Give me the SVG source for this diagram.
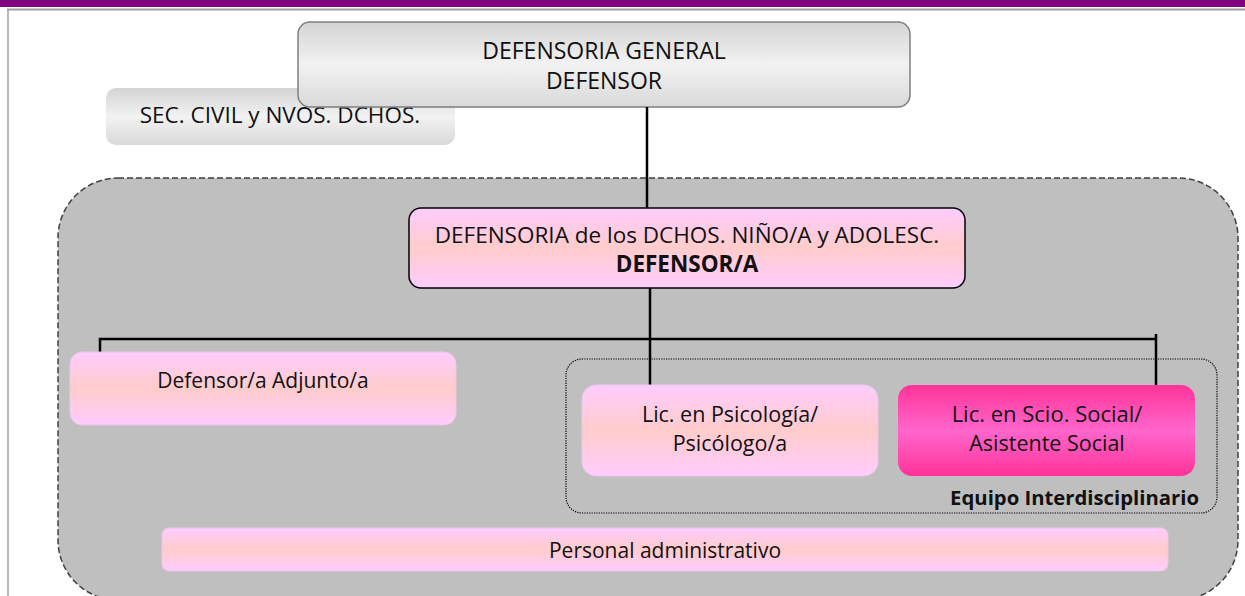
<svg xmlns="http://www.w3.org/2000/svg" width="1245" height="596" viewBox="0 0 1245 596">
<defs>
<linearGradient id="gGray" x1="0" y1="0" x2="0" y2="1">
<stop offset="0" stop-color="#d4d4d4"/><stop offset="0.5" stop-color="#f2f2f2"/><stop offset="1" stop-color="#d9d9d9"/>
</linearGradient>
<linearGradient id="gPink" x1="0" y1="0" x2="0" y2="1">
<stop offset="0" stop-color="#ffccff"/><stop offset="0.5" stop-color="#ffcccc"/><stop offset="1" stop-color="#ffccff"/>
</linearGradient>
<linearGradient id="gMag" x1="0" y1="0" x2="0" y2="1">
<stop offset="0" stop-color="#ff3399"/><stop offset="0.5" stop-color="#ff66cc"/><stop offset="1" stop-color="#ff3399"/>
</linearGradient>
</defs>
<style>
text{font-family:"Open Sans","Liberation Sans",sans-serif;font-size:21.5px;fill:#111;text-anchor:middle}
.caps{font-size:22.5px}
.b{font-weight:bold}
.conn{stroke:#000;stroke-width:2.5;fill:none}
.pink{fill:url(#gPink);stroke:#e8c8e8;stroke-width:1}
</style>
<rect x="0" y="0" width="1245" height="7" fill="#800080"/>
<line x1="7" y1="9.5" x2="1245" y2="9.5" stroke="#a0a0a0" stroke-width="2"/>
<line x1="8" y1="9" x2="8" y2="596" stroke="#a0a0a0" stroke-width="1.5"/>

<g id="container">
<rect x="58" y="178" width="1180" height="422" rx="60" ry="60" fill="#bfbfbf" stroke="#404040" stroke-width="1.5" stroke-dasharray="6 3"/>
</g>

<g id="sec-civil">
<rect x="106" y="88" width="349" height="57" rx="10" fill="url(#gGray)"/>
<text class="caps" x="280" y="123">SEC. CIVIL y NVOS. DCHOS.</text>
</g>

<g id="defensoria-general">
<rect x="298" y="22" width="612" height="85" rx="12" fill="url(#gGray)" stroke="#7f7f7f" stroke-width="1.5"/>
<text class="caps" x="604" y="59" style="font-size:23px">DEFENSORIA GENERAL</text>
<text class="caps" x="604" y="88.5" style="font-size:23px">DEFENSOR</text>
</g>

<g id="connectors">
<line class="conn" x1="647" y1="107" x2="647" y2="208"/>
<line class="conn" x1="650" y1="288" x2="650" y2="386"/>
<polyline class="conn" points="100,352 100,339 1156,339"/>
<line class="conn" x1="1156" y1="334" x2="1156" y2="386"/>
</g>

<g id="defensoria-nna">
<rect x="409" y="208" width="556" height="80" rx="12" fill="url(#gPink)" stroke="#000" stroke-width="1.5"/>
<text class="caps" x="687" y="243">DEFENSORIA de los DCHOS. NIÑO/A y ADOLESC.</text>
<text class="caps b" x="687" y="272">DEFENSOR/A</text>
</g>

<g id="adjunto">
<rect class="pink" x="70" y="352" width="386" height="73" rx="12"/>
<text x="263" y="388" style="font-size:21px">Defensor/a Adjunto/a</text>
</g>

<g id="equipo">
<rect x="566" y="359" width="651" height="154" rx="16" fill="none" stroke="#000" stroke-width="1.2" stroke-dasharray="1.2 1.2"/>
<text class="b" x="1199" y="505" style="text-anchor:end;font-size:20.3px">Equipo Interdisciplinario</text>
</g>

<g id="psicologo">
<rect class="pink" x="582" y="385" width="296" height="91" rx="14"/>
<text x="730" y="422">Lic. en Psicología/</text>
<text x="730" y="451">Psicólogo/a</text>
</g>

<g id="asistente-social">
<rect x="898" y="385" width="297" height="91" rx="14" fill="url(#gMag)"/>
<text x="1047" y="422" style="font-size:22px">Lic. en Scio. Social/</text>
<text x="1047" y="451">Asistente Social</text>
</g>

<g id="administrativo">
<rect class="pink" x="162" y="528" width="1006" height="43" rx="7"/>
<text x="665" y="558" style="font-size:21px">Personal administrativo</text>
</g>
</svg>
